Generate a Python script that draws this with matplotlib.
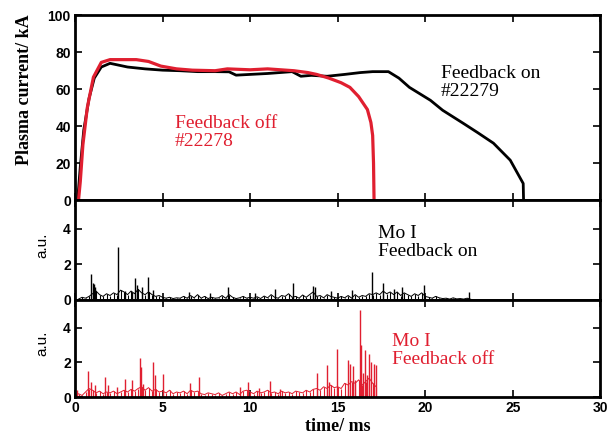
import numpy as np
import matplotlib.pyplot as plt

RED = '#e01f30'

# plasma current, kA
on_t = [0.15, 0.3, 0.5, 0.8, 1.1, 1.5, 2.0, 2.5, 3.0, 4.0, 5.0, 6.0, 7.0, 8.0, 8.8, 9.2,
        10.0, 11.0, 12.4, 12.9, 13.5, 14.4, 15.4, 16.3, 17.0, 17.9, 18.5, 19.1, 20.3, 21.0,
        22.2, 23.0, 23.9, 24.86, 25.4, 25.6, 25.62]
on_i = [0, 18, 38, 55, 66, 72, 74, 73, 72, 71, 70.3, 70, 69.5, 69.5, 69.4, 67.6,
        68, 68.5, 69.5, 67, 67.5, 67, 68, 69, 69.5, 69.5, 66, 61, 54, 48.6,
        41.4, 36.5, 30.8, 21.6, 12.4, 9, 0]
off_t = [0.2, 0.3, 0.45, 0.7, 1.05, 1.5, 2.0, 2.5, 3.5, 4.2, 4.9, 5.8, 6.7, 8.0, 8.7,
         10.0, 11.0, 12.5, 13.3, 13.8, 14.5, 15.2, 15.7, 16.2, 16.7, 16.9, 17.0, 17.05, 17.08]
off_i = [0, 10, 30, 50, 66.5, 74.5, 76, 76, 76, 75, 72.5, 71, 70.3, 70, 71,
         70.5, 71, 70, 69, 68, 66, 63.5, 61, 56, 49, 42, 35, 20, 0]

# Mo I, feedback on: background every 0.2 ms from 0.2 ms, plus spikes
moon_base = [0.05, 0.15, 0.1, 0.2, 0.35, 0.5, 0.3, 0.2, 0.35, 0.25,
             0.4, 0.3, 0.55, 0.45, 0.3, 0.5, 0.35, 0.6, 0.4, 0.3,
             0.45, 0.3, 0.2, 0.25, 0.15, 0.1, 0.15, 0.08, 0.12, 0.1,
             0.2, 0.1, 0.25, 0.12, 0.3, 0.1, 0.2, 0.08, 0.15, 0.1,
             0.12, 0.25, 0.1, 0.3, 0.15, 0.08, 0.12, 0.2, 0.1, 0.15,
             0.1, 0.18, 0.08, 0.22, 0.12, 0.3, 0.15, 0.1, 0.25, 0.2,
             0.35, 0.15, 0.2, 0.1, 0.28, 0.15, 0.3, 0.45, 0.2, 0.25,
             0.12, 0.3, 0.2, 0.15, 0.1, 0.2, 0.12, 0.25, 0.1, 0.3,
             0.15, 0.25, 0.2, 0.35, 0.3, 0.4, 0.3, 0.5, 0.35, 0.45,
             0.3, 0.45, 0.25, 0.4, 0.3, 0.2, 0.35, 0.25, 0.4, 0.2,
             0.15, 0.1, 0.2, 0.12, 0.08, 0.1, 0.05, 0.12, 0.06, 0.08,
             0.05, 0.1, 0.04]
moon_spk_t = [0.91, 1.0, 1.08, 1.15, 2.48, 2.86, 3.24, 3.43, 3.56, 3.81, 4.19, 4.48,
              6.5, 7.7, 8.76, 10.3, 11.43, 12.44, 13.62, 13.72, 14.6, 15.8, 16.95,
              17.6, 18.2, 18.7, 19.96, 22.48]
moon_spk_h = [1.43, 0.95, 0.9, 0.7, 2.98, 0.5, 0.45, 1.21, 0.85, 0.75, 1.3, 0.57,
              0.45, 0.4, 0.74, 0.4, 0.62, 0.93, 0.8, 0.75, 0.5, 0.55, 1.58,
              0.93, 0.6, 0.7, 0.84, 0.47]

# Mo I, feedback off: background every 0.2 ms from 0 ms, plus spikes
mooff_base = [0.05, 0.2, 0.1, 0.3, 0.5, 0.4, 0.25, 0.35, 0.2, 0.3,
              0.25, 0.35, 0.2, 0.3, 0.4, 0.3, 0.45, 0.35, 0.5, 0.6,
              0.4, 0.55, 0.35, 0.45, 0.3, 0.35, 0.25, 0.4, 0.2, 0.3,
              0.25, 0.35, 0.2, 0.4, 0.3, 0.35, 0.2, 0.15, 0.25, 0.2,
              0.15, 0.25, 0.1, 0.2, 0.3, 0.2, 0.3, 0.15, 0.35, 0.4,
              0.3, 0.2, 0.35, 0.25, 0.3, 0.4, 0.25, 0.3, 0.2, 0.35,
              0.25, 0.3, 0.2, 0.35, 0.3, 0.25, 0.4, 0.3, 0.45, 0.5,
              0.4, 0.6, 0.5, 0.7, 0.55, 0.6, 0.5, 0.8, 0.7, 0.9,
              0.8, 1.0, 0.7, 0.9, 1.1, 0.8, 0.6]
mooff_spk_t = [0.13, 0.76, 0.9, 1.14, 1.71, 1.9, 2.4, 2.86, 3.24, 3.71, 3.77, 3.9,
               4.48, 4.57, 5.05, 6.57, 7.1, 9.4, 9.9, 10.5, 11.14, 11.7, 13.8,
               14.38, 14.5, 14.95, 15.62, 15.7, 15.9, 16.0, 16.25, 16.34, 16.45,
               16.57, 16.7, 16.8, 16.9, 17.09, 17.2]
mooff_spk_h = [0.43, 1.49, 0.9, 0.7, 1.17, 0.7, 0.6, 1.02, 0.98, 2.25, 1.74, 0.75,
               2.02, 1.3, 1.35, 0.83, 1.17, 0.6, 0.85, 0.55, 0.92, 0.5, 1.37,
               1.85, 0.9, 2.77, 2.12, 1.9, 1.8, 1.0, 5.0, 3.0, 1.4,
               2.7, 1.3, 2.5, 2.0, 1.94, 1.85]

moon_t = np.round(0.2 + 0.2 * np.arange(len(moon_base)), 2)
mooff_t = np.round(0.2 * np.arange(len(mooff_base)), 2)

plt.rcParams['font.family'] = ['Liberation Sans', 'DejaVu Sans']
fig = plt.figure(figsize=(6.15, 4.36), dpi=100)
L, W = 0.122, 0.854
ax1 = fig.add_axes([L, 0.541, W, 0.424])
ax2 = fig.add_axes([L, 0.312, W, 0.229])
ax3 = fig.add_axes([L, 0.089, W, 0.223])

ax1.plot(on_t, on_i, color='black', lw=2.0)
ax1.plot(off_t, off_i, color=RED, lw=2.3)
ax1.set_ylim(0, 100)
ax1.set_yticks([0, 20, 40, 60, 80, 100])

ax2.plot(moon_t, moon_base, color='black', lw=0.7)
ax2.vlines(moon_t, 0, moon_base, color='black', lw=0.8)
ax2.vlines(moon_spk_t, 0, moon_spk_h, color='black', lw=1.0)
ax2.set_ylim(0, 5.6)
ax2.set_yticks([0, 2, 4])

ax3.plot(mooff_t, mooff_base, color=RED, lw=0.7)
ax3.vlines(mooff_t, 0, mooff_base, color=RED, lw=0.8)
ax3.vlines(mooff_spk_t, 0, mooff_spk_h, color=RED, lw=1.0)
ax3.set_ylim(0, 5.6)
ax3.set_yticks([0, 2, 4])

for ax in (ax1, ax2, ax3):
    ax.set_xlim(0, 30)
    ax.set_xticks([0, 5, 10, 15, 20, 25, 30])
    ax.tick_params(direction='in', top=True, right=True, length=5, width=1.2,
                   labelsize=10, pad=3)
    for s in ax.spines.values():
        s.set_linewidth(2.0)
    for lab in ax.get_xticklabels() + ax.get_yticklabels():
        lab.set_fontweight('bold')
for ax in (ax1, ax2):
    ax.tick_params(labelbottom=False)

serif = ['Liberation Serif', 'DejaVu Serif']
ax1.set_ylabel('Plasma current/ kA', family=serif, fontsize=13, fontweight='bold')
ax1.yaxis.set_label_coords(-0.08, 0.6)
ax2.set_ylabel('a.u.', fontsize=11)
ax2.yaxis.set_label_coords(-0.048, 0.55)
ax3.set_ylabel('a.u.', fontsize=11)
ax3.yaxis.set_label_coords(-0.048, 0.55)
ax3.set_xlabel('time/ ms', family=serif, fontsize=13, fontweight='bold', labelpad=2)

ax1.text(5.7, 46, 'Feedback off\n#22278', color=RED, family=serif, fontsize=14,
         va='top', linespacing=1.05)
ax1.text(20.9, 73, 'Feedback on\n#22279', color='black', family=serif, fontsize=14,
         va='top', linespacing=1.05)
ax2.text(17.3, 4.2, 'Mo I\nFeedback on', color='black', family=serif, fontsize=14,
         va='top', linespacing=1.05)
ax3.text(18.1, 3.7, 'Mo I\nFeedback off', color=RED, family=serif, fontsize=14,
         va='top', linespacing=1.05)

fig.savefig('out.png', dpi=100)
